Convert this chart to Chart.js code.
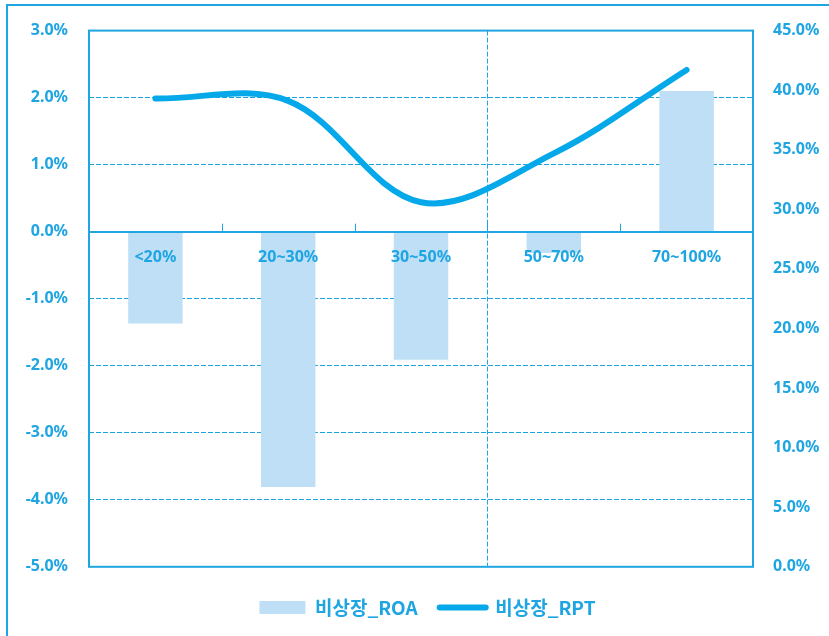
<!DOCTYPE html>
<html>
<head>
<meta charset="utf-8">
<script src="https://cdn.jsdelivr.net/npm/chart.js@4.4.0/dist/chart.umd.min.js"></script>
<style>
  html, body { margin: 0; padding: 0; background: #fff; }
</style>
</head>
<body>
<canvas id="myChart" width="829" height="636"></canvas>
<script>
// data
const categories = ['<20%', '20~30%', '30~50%', '50~70%', '70~100%'];
const roaValues  = [-1.37, -3.81, -1.91, -0.32, 2.10];   // left axis, %
const rptValues  = [39.3, 39.1, 30.6, 34.7, 41.7];       // right axis, %
const roaName = '비상장_ROA';
const rptName = '비상장_RPT';
const leftAxis  = { min: -5, max: 3,  step: 1 };
const rightAxis = { min: 0,  max: 45, step: 5 };

const BLUE = '#1fa6e2';
const LINE = '#05a9ea';
const BAR  = '#bedff5';
const tickFont = { family: "'Noto Sans', sans-serif", size: 16, weight: 'bold' };

// frame, zero-axis tick marks and the one dashed vertical line
const framePlugin = {
  id: 'frame',
  afterLayout(chart) {
    // legend sits a little right of centre in the original
    chart.legend.left += 13;
    chart.legend.right += 13;
  },
  beforeDraw(chart) {
    const c = chart.ctx;
    c.save();
    c.strokeStyle = BLUE;
    c.lineWidth = 2;
    c.beginPath();
    c.moveTo(7, chart.height);
    c.lineTo(7, 5);
    c.lineTo(chart.width, 5);
    c.stroke();
    c.restore();
  },
  beforeDatasetsDraw(chart) {
    const { ctx: c, chartArea: a, scales } = chart;
    const x = scales.x, y = scales.y;
    const zero = y.getPixelForValue(0);
    c.save();
    c.strokeStyle = BLUE;
    c.lineWidth = 2;
    c.strokeRect(a.left, a.top, a.right - a.left, a.bottom - a.top);
    c.lineWidth = 1;
    for (let i = 1; i < categories.length; i++) {
      const bx = Math.round((x.getPixelForValue(i - 1) + x.getPixelForValue(i)) / 2) + 0.5;
      c.beginPath();
      c.moveTo(bx, zero);
      c.lineTo(bx, zero - 8);
      c.stroke();
      if (i === 3) {
        c.setLineDash([5, 2]);
        c.beginPath();
        c.moveTo(bx, a.top);
        c.lineTo(bx, a.bottom);
        c.stroke();
        c.setLineDash([]);
      }
    }
    c.restore();
  }
};

const ctx = document.getElementById('myChart').getContext('2d');
const chart = new Chart(ctx, {
  type: 'bar',
  data: {
    labels: categories,
    datasets: [
      {
        type: 'line',
        label: rptName,
        data: rptValues,
        yAxisID: 'y1',
        borderColor: LINE,
        backgroundColor: LINE,
        borderWidth: 6,
        borderCapStyle: 'round',
        pointRadius: 0,
        tension: 0.35,
        fill: false
      },
      {
        label: roaName,
        data: roaValues,
        yAxisID: 'y',
        backgroundColor: BAR,
        borderWidth: 0,
        barPercentage: 0.82,
        categoryPercentage: 0.5
      }
    ]
  },
  options: {
    responsive: false,
    animation: false,
    layout: { padding: { top: 29, left: 0, right: 0, bottom: 9 } },
    scales: {
      x: {
        position: { y: 0 },
        grid: { display: false },
        border: { display: true, color: BLUE, width: 2, z: 1 },
        ticks: { z: 1, color: BLUE, font: tickFont, padding: 8, maxRotation: 0 }
      },
      y: {
        position: 'left',
        min: leftAxis.min, max: leftAxis.max,
        afterFit(s) { s.width = 89; },
        grid: { color: '#1aa3e4', lineWidth: 1, drawTicks: false },
        border: { display: false, dash: [5, 2] },
        ticks: {
          stepSize: leftAxis.step, color: BLUE, font: tickFont, padding: 21,
          callback: v => v.toFixed(1) + '%'
        }
      },
      y1: {
        position: 'right',
        min: rightAxis.min, max: rightAxis.max,
        afterFit(s) { s.width = 76; },
        grid: { drawOnChartArea: false, drawTicks: false },
        border: { display: false },
        ticks: {
          stepSize: rightAxis.step, color: BLUE, font: tickFont, padding: 20,
          callback: v => v.toFixed(1) + '%'
        }
      }
    },
    plugins: {
      tooltip: { enabled: false },
      legend: {
        position: 'bottom',
        reverse: true,
        title: { display: true, text: '', font: { size: 1 }, padding: { top: 0, bottom: 8 } },
        labels: {
          color: BLUE,
          font: { family: "'Noto Sans CJK KR', sans-serif", size: 19, weight: 'bold' },
          usePointStyle: true,
          pointStyleWidth: 46,
          boxHeight: 13,
          padding: 22,
          generateLabels(ch) {
            const items = Chart.defaults.plugins.legend.labels.generateLabels(ch);
            items.forEach(it => {
              const ds = ch.data.datasets[it.datasetIndex];
              it.pointStyle = ds.type === 'line' ? 'line' : 'rect';
              it.lineCap = 'round';
            });
            return items;
          }
        }
      }
    }
  },
  plugins: [framePlugin]
});
</script>
</body>
</html>
